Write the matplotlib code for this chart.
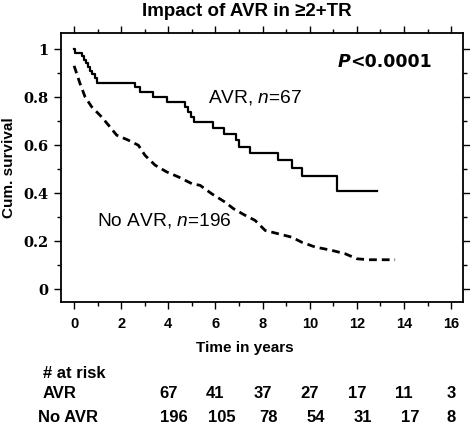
import matplotlib
matplotlib.use("Agg")
import matplotlib.pyplot as plt
from matplotlib.ticker import MultipleLocator
import matplotlib.transforms as mtransforms

plt.rcParams["mathtext.fontset"] = "custom"
plt.rcParams["mathtext.rm"] = "Liberation Sans"
plt.rcParams["mathtext.it"] = "Liberation Sans:italic"

# ---- data ----
avr_time = [0, 0.02, 0.33, 0.42, 0.51, 0.60, 0.69, 0.78, 0.87, 0.97,
            2.60, 2.80, 3.37, 3.93, 4.71, 4.85, 4.95, 5.07,
            5.90, 6.35, 6.85, 7.00, 7.45, 8.65, 9.25, 9.66, 11.15, 12.85]
avr_surv = [1.0, 0.985, 0.970, 0.955, 0.940, 0.925, 0.910, 0.895, 0.880, 0.860,
            0.843, 0.822, 0.801, 0.780, 0.759, 0.738, 0.718, 0.695,
            0.670, 0.645, 0.620, 0.592, 0.568, 0.537, 0.503, 0.470, 0.410, 0.410]

noavr_time = [0, 0.04, 0.25, 0.47, 0.75, 1.17, 1.46, 1.81, 2.31, 2.73, 3.01,
              3.44, 3.93, 4.43, 5.00, 5.35, 5.84, 6.41, 6.76, 7.26, 7.68,
              8.11, 8.67, 9.24, 9.66, 10.23, 10.94, 11.50, 12.00, 12.50, 13.62]
noavr_surv = [0.93, 0.919, 0.857, 0.800, 0.759, 0.717, 0.683, 0.641, 0.620, 0.599, 0.557,
              0.516, 0.488, 0.467, 0.439, 0.432, 0.397, 0.362, 0.335, 0.307, 0.286,
              0.244, 0.230, 0.216, 0.195, 0.175, 0.161, 0.147, 0.126, 0.122, 0.122]

x_ticks = [0, 2, 4, 6, 8, 10, 12, 14, 16]
y_ticks = [0, 0.2, 0.4, 0.6, 0.8, 1]
y_ticklabels = ["0", "0.2", "0.4", "0.6", "0.8", "1"]

risk_groups = ["AVR", "No AVR"]
risk_avr = [67, 41, 37, 27, 17, 11, 3]
risk_noavr = [196, 105, 78, 54, 31, 17, 8]
risk_x = [4, 6, 8, 10, 12, 14, 16]

# ---- figure ----
fig = plt.figure(figsize=(4.70, 4.37), dpi=100)
ax = fig.add_axes([0.130, 0.309, 0.855, 0.6155])

sans = "Liberation Sans"

ax.step(avr_time, avr_surv, where="post", color="black", lw=1.6)
ax.plot(noavr_time, noavr_surv, color="black", lw=2.0,
        linestyle=(0, (2.8, 1.8)))

ax.set_xlim(-0.55, 16.5)
ax.set_ylim(-0.054, 1.067)

ax.set_xticks(x_ticks)
ax.set_xticklabels([str(v) for v in x_ticks], fontfamily=sans, fontweight="bold", fontsize=10.5)
ax.set_yticks(y_ticks)
ax.set_yticklabels(y_ticklabels, fontfamily="DejaVu Serif", fontweight="bold", fontsize=10.5)
ax.xaxis.set_minor_locator(MultipleLocator(1))
ax.yaxis.set_minor_locator(MultipleLocator(0.1))
ax.tick_params(which="both", direction="out", top=True, right=True, width=1.0)
ax.tick_params(which="major", length=5)
ax.tick_params(axis="x", which="major", pad=6)
ax.tick_params(axis="y", which="major", pad=4)
ax.tick_params(which="minor", length=3)
for s in ax.spines.values():
    s.set_linewidth(1.3)

fig.text(245 / 470, 1 - 348 / 437, "Time in years", ha="center", va="center",
         fontfamily=sans, fontweight="bold", fontsize=11)
ax.set_ylabel("Cum. survival", fontfamily=sans, fontweight="bold", fontsize=11, labelpad=5)

fig.text(247 / 470, 1 - 12 / 437, "Impact of AVR in \u22652+TR", ha="center", va="center",
         fontfamily=sans, fontweight="bold", fontsize=13.5)

# P value
fig.text(350 / 470, 1 - 62 / 437, "P", ha="right", va="center",
         fontfamily="DejaVu Sans", fontweight="bold", style="italic", fontsize=12.5)
fig.text(350 / 470, 1 - 62 / 437, "<0.0001", ha="left", va="center",
         fontfamily="DejaVu Sans", fontweight="bold", fontsize=12.5)

ax.text(5.7, 0.80, r"AVR, $\it{n}$=67", ha="left", va="center", fontfamily=sans, fontsize=13.8)
ax.text(0.97, 0.285, r"No AVR, $\it{n}$=196", ha="left", va="center", fontfamily=sans, fontsize=13.8)

# ---- risk table ----
trans = mtransforms.blended_transform_factory(ax.transData, fig.transFigure)
fig.text(43 / 470, 1 - 374 / 437, "# at risk", ha="left", va="center",
         fontfamily=sans, fontweight="bold", fontsize=12)
fig.text(43 / 470, 1 - 393 / 437, risk_groups[0], ha="left", va="center",
         fontfamily=sans, fontweight="bold", fontsize=12)
fig.text(38 / 470, 1 - 418 / 437, risk_groups[1], ha="left", va="center",
         fontfamily=sans, fontweight="bold", fontsize=12)
for i, (xv, a, b) in enumerate(zip(risk_x, risk_avr, risk_noavr)):
    off = 0.25 if i < len(risk_x) - 1 else 0.0
    fig.text(xv, 1 - 393 / 437, str(a), transform=trans, ha="center", va="center",
             fontfamily=sans, fontweight="bold", fontsize=12)
    fig.text(xv + off, 1 - 418 / 437, str(b), transform=trans, ha="center", va="center",
             fontfamily=sans, fontweight="bold", fontsize=12)

fig.savefig("out.png", dpi=100)
